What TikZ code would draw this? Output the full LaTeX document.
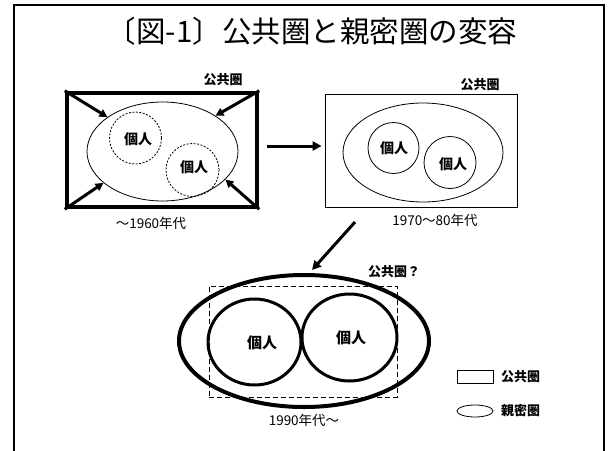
\documentclass[tikz,border=0pt]{standalone}
\usepackage{fontspec}
\setmainfont{Noto Sans CJK JP}
\usetikzlibrary{arrows.meta,shapes.geometric}
\begin{document}
\begin{tikzpicture}[x=1pt,y=-1pt,
  lbl/.style={font=\fontsize{13}{13}\selectfont\bfseries, inner sep=0pt},
  datelbl/.style={font=\fontsize{13.5}{14}\selectfont, inner sep=0pt},
  indiv/.style={font=\fontsize{14}{14}\selectfont\bfseries, inner sep=0pt},
  boxshape/.style={draw, rectangle, inner sep=0pt},
  ovalshape/.style={draw, ellipse, inner sep=0pt},
  circshape/.style={draw, circle, inner sep=0pt},
  finedash/.style={dash pattern=on 2pt off 1.5pt},
  rectdash/.style={dash pattern=on 5pt off 3pt},
  bigarrow/.style={line width=3pt, -{Triangle[length=9pt,width=9pt]}},
  pusharrow/.style={line width=3pt, -{Triangle[length=8pt,width=8pt]}}
]
\useasboundingbox (0,0) rectangle (610,450);
% outer frame
\draw[line width=2.5pt] (14,452) -- (14,5) -- (604,5) -- (604,452);
% title
\node[font=\fontsize{29.5}{30}\selectfont, inner sep=0pt] (title) at (312,31) {〔図-1〕公共圏と親密圏の変容};

% ---------- panel 1 ----------
\node[boxshape, line width=4.5pt, minimum width=190pt, minimum height=114pt] (r1) at (162,150) {};
\node[ovalshape, line width=0.8pt, minimum width=151pt, minimum height=99pt] (e1) at (162.5,151.5) {};
\node[circshape, finedash, line width=0.8pt, minimum size=52pt] (c11) at (135.5,138) {};
\node[circshape, finedash, line width=0.8pt, minimum size=53pt] (c12) at (192.5,170) {};
\node[indiv] (t11) at (138,139) {個人};
\node[indiv] (t12) at (194,167) {個人};
\node[lbl] (p1) at (223,80) {公共圏};
\node[datelbl] (d1) at (151,223) {～1960年代};
\draw[pusharrow] (r1.north west) -- (e1.148);
\draw[pusharrow] (r1.south west) -- (e1.208);
\draw[pusharrow] (r1.north east) -- (e1.34);
\draw[pusharrow] (r1.south east) -- (e1.336);

% ---------- panel 2 ----------
\node[boxshape, line width=0.8pt, minimum width=192pt, minimum height=113pt] (r2) at (421,150.5) {};
\node[ovalshape, line width=0.8pt, minimum width=160pt, minimum height=99pt] (e2) at (423,152.5) {};
\node[circshape, line width=0.8pt, minimum size=51pt] (c21) at (393.5,148) {};
\node[circshape, line width=0.8pt, minimum size=52pt] (c22) at (450,162.5) {};
\node[indiv] (t21) at (394,148) {個人};
\node[indiv] (t22) at (453,164) {個人};
\node[lbl] (p2) at (480,85) {公共圏};
\node[datelbl] (d2) at (435,220) {1970～80年代};

\draw[bigarrow] ([xshift=8pt,yshift=4pt]r1.east) -- ([xshift=-3pt,yshift=4.5pt]r2.west);

% ---------- panel 3 ----------
\node[ovalshape, line width=4pt, minimum width=250pt, minimum height=132pt] (e3) at (304,341) {};
\node[boxshape, rectdash, line width=0.8pt, minimum width=188pt, minimum height=111pt] (r3) at (303,341.5) {};
\node[ovalshape, line width=3pt, minimum width=93pt, minimum height=86pt] (c31) at (254.5,342) {};
\node[ovalshape, line width=3pt, minimum width=95pt, minimum height=87pt] (c32) at (349.5,337.5) {};
\node[indiv, font=\fontsize{15}{15}\selectfont\bfseries] (t31) at (262,343) {個人};
\node[indiv, font=\fontsize{15}{15}\selectfont\bfseries] (t32) at (351,338) {個人};
\node[lbl] (p3) at (394,272) {公共圏？};
\node[datelbl] (d3) at (304,420) {1990年代～};

\coordinate (a3s) at (355,222);
\draw[bigarrow] (a3s) -- ([xshift=8pt,yshift=3pt]e3.north);

% ---------- legend ----------
\node[boxshape, line width=0.8pt, minimum width=36pt, minimum height=13pt] (lg1) at (475,377) {};
\node[ovalshape, line width=0.8pt, minimum width=36pt, minimum height=12pt] (lg2) at (475,411) {};
\node[lbl, anchor=west] (lt1) at (501,377) {公共圏};
\node[lbl, anchor=west] (lt2) at (501,411) {親密圏};
\end{tikzpicture}
\end{document}
